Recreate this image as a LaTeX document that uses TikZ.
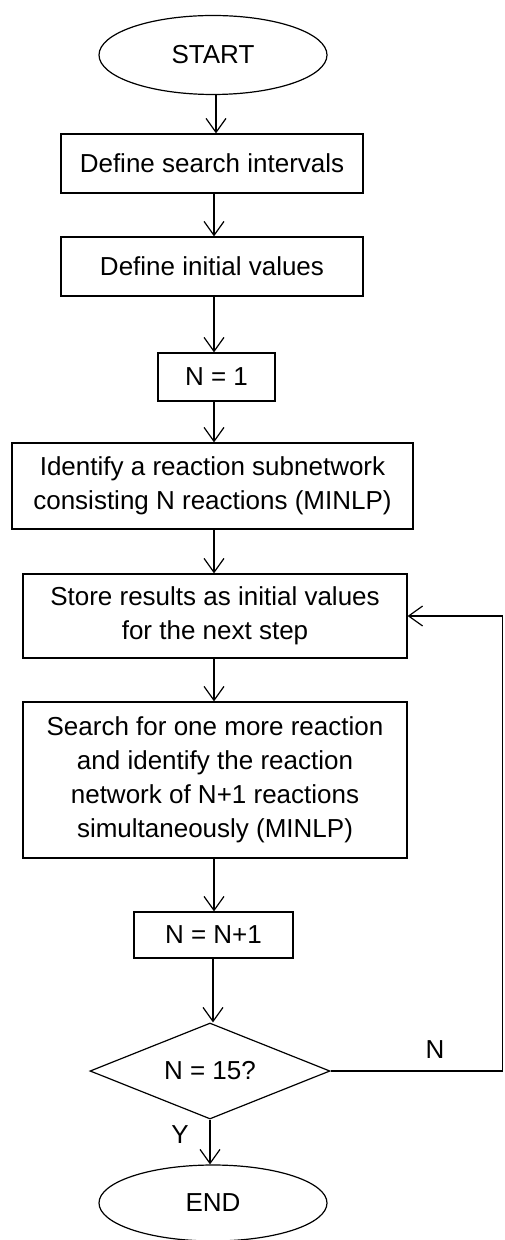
\documentclass[tikz,border=0pt]{standalone}
\usepackage{fontspec}
\setmainfont{Liberation Sans}
\usetikzlibrary{arrows.meta}
\usetikzlibrary{shapes,positioning}
\tikzset{>={Straight Barb[length=7pt,width=10pt]}}
\tikzset{box/.style={draw,rectangle,line width=.6pt,align=center,inner sep=2pt,
    font=\fontsize{13}{17}\selectfont}}
\tikzset{term/.style={draw,ellipse,line width=.6pt,inner sep=0pt,
    minimum width=114pt,minimum height=39.5pt,font=\fontsize{13}{17}\selectfont}}
\tikzset{flow/.style={->,line width=.6pt}}

\begin{document}
\begin{tikzpicture}[x=.5pt,y=-.5pt]
      \useasboundingbox (0,0) rectangle (504,1240);
      \node[term] (start) at (213,55) {START};
      \node[box,minimum width=151pt,minimum height=29.5pt] (sint) at (212,163.5) {Define search intervals};
      \node[box,minimum width=151pt,minimum height=29.5pt] (init) at (212,266.5) {Define initial values};
      \node[box,minimum width=58.5pt,minimum height=24pt] (none) at (216.5,377) {N = 1};
      \node[box,minimum width=200.5pt,minimum height=43pt] (ident) at (212.5,486) {Identify a reaction subnetwork\\consisting N reactions (MINLP)};
      \node[box,minimum width=192pt,minimum height=42pt] (store) at (215,616) {Store results as initial values\\for the next step};
      \node[box,minimum width=192pt,minimum height=78pt] (search) at (215,780) {Search for one more reaction\\and identify the reaction\\network of N+1 reactions\\simultaneously (MINLP)};
      \node[box,minimum width=79.5pt,minimum height=23pt] (incr) at (213.5,935) {N = N+1};
      \node[draw,diamond,line width=.6pt,aspect=2.5,inner sep=0pt,minimum width=120pt,minimum height=48pt,
        font=\fontsize{13}{17}\selectfont] (check) at (210,1071) {N = 15?};
      \node[term,minimum height=38pt] (end) at (213,1203) {END};
      \coordinate (rt) at (502.5,0);
      \draw[flow] (start.south -| 216,0) -- (sint.north -| 216,0);
      \draw[flow] (sint.south -| 214,0) -- (init.north -| 214,0);
      \draw[flow] (init.south -| 214,0) -- (none.north -| 214,0);
      \draw[flow] (none.south -| 214,0) -- (ident.north -| 214,0);
      \draw[flow] (ident.south -| 214,0) -- (store.north -| 214,0);
      \draw[flow] (store.south -| 214,0) -- (search.north -| 214,0);
      \draw[flow] (search.south -| 214,0) -- (incr.north -| 214,0);
      \draw[flow] (incr.south -| 213,0) -- (check.north -| 213,0);
      \draw[flow] (check.south) -- (check.south |- end.north);
      \draw[flow] (check.east) -- (check.east -| rt) |- (store.east);
      \node[font=\fontsize{13}{17}\selectfont] (nlab) at (435,1050) {N};
      \node[font=\fontsize{13}{17}\selectfont] (ylab) at (180,1135) {Y};
    \end{tikzpicture}
\end{document}
